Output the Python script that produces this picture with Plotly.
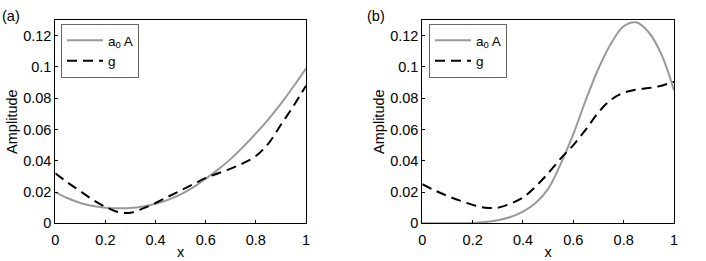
import plotly.graph_objects as go

x_vals = [0, 0.05, 0.1, 0.15, 0.2, 0.25, 0.3, 0.35, 0.4, 0.45, 0.5,
          0.55, 0.6, 0.65, 0.7, 0.75, 0.8, 0.85, 0.9, 0.95, 1.0]

a_A = [0.0200, 0.0160, 0.0130, 0.0110, 0.0100, 0.0096, 0.0098, 0.0108, 0.0125, 0.0150, 0.0185,
       0.0230, 0.0285, 0.0345, 0.0412, 0.0490, 0.0575, 0.0665, 0.0765, 0.0875, 0.0990]
a_g = [0.0320, 0.0260, 0.0205, 0.0150, 0.0105, 0.0072, 0.0068, 0.0095, 0.0130, 0.0170, 0.0210,
       0.0250, 0.0290, 0.0320, 0.0350, 0.0385, 0.0430, 0.0510, 0.0630, 0.0750, 0.0880]

b_A = [0.0, 0.0, 0.0, 0.0, 0.0002, 0.0008, 0.0020, 0.0040, 0.0075, 0.0130, 0.0220,
       0.0380, 0.0570, 0.0790, 0.0990, 0.1150, 0.1260, 0.1285, 0.1220, 0.1080, 0.0850]
b_g = [0.0250, 0.0210, 0.0175, 0.0145, 0.0118, 0.0100, 0.0100, 0.0125, 0.0165, 0.0235, 0.0320,
       0.0415, 0.0500, 0.0600, 0.0710, 0.0790, 0.0835, 0.0855, 0.0865, 0.0880, 0.0905]

x_ticks = [0, 0.2, 0.4, 0.6, 0.8, 1]
x_tick_text = ["0", "0.2", "0.4", "0.6", "0.8", "1"]
y_ticks = [0, 0.02, 0.04, 0.06, 0.08, 0.1, 0.12]
y_tick_text = ["0", "0.02", "0.04", "0.06", "0.08", "0.1", "0.12"]
panel_labels = ["(a)", "(b)"]
legend_names = ["a<sub>0</sub> A", "g"]

W, H = 706, 261
FONT = "Liberation Sans, Arial, sans-serif"
FS = 14.5
LFS = 13.5
GRAY = "#999999"

fig = go.Figure()

panels = [(a_A, a_g, "x", "y", "legend"), (b_A, b_g, "x2", "y2", "legend2")]
for A, g, xa, ya, lg in panels:
    fig.add_trace(go.Scatter(x=x_vals, y=A, mode="lines",
                             line=dict(color=GRAY, width=2, shape="spline", smoothing=1.0),
                             name=legend_names[0], xaxis=xa, yaxis=ya, legend=lg))
    fig.add_trace(go.Scatter(x=x_vals, y=g, mode="lines",
                             line=dict(color="black", width=2, dash="10px,6px", shape="spline", smoothing=1.0),
                             name=legend_names[1], xaxis=xa, yaxis=ya, legend=lg))

def px_x(p):
    return p / W

def px_y(p):
    return (H - p) / H

ydom = [px_y(223.3), px_y(20)]
xdoms = [[px_x(55.3), px_x(306)], [px_x(422.3), px_x(674)]]

axis_common = dict(showline=True, linecolor="black", linewidth=1, mirror=True, ticks="inside",
                   ticklen=3, tickcolor="black", showgrid=False, zeroline=False, automargin=False,
                   tickfont=dict(family=FONT, size=FS, color="black"))

for i, (xn, yn) in enumerate([("xaxis", "yaxis"), ("xaxis2", "yaxis2")]):
    fig.layout[xn] = dict(domain=xdoms[i], range=[0, 1], tickvals=x_ticks, ticktext=x_tick_text,
                          anchor="y" if i == 0 else "y2", ticklabelstandoff=3,
                          title=dict(text="x", font=dict(family=FONT, size=FS, color="black"), standoff=0),
                          **axis_common)
    fig.layout[yn] = dict(domain=ydom, range=[0, 0.13], tickvals=y_ticks, ticktext=y_tick_text,
                          anchor="x" if i == 0 else "x2",
                          title=dict(text="Amplitude", font=dict(family=FONT, size=FS, color="black"), standoff=2),
                          **axis_common)

leg_common = dict(bgcolor="white", bordercolor="#666666", borderwidth=1,
                  font=dict(family=FONT, size=LFS, color="black"), xanchor="left", yanchor="top",
                  tracegroupgap=0, itemwidth=36)
fig.update_layout(
    legend=dict(x=px_x(61), y=px_y(24), **leg_common),
    legend2=dict(x=px_x(429), y=px_y(24), **leg_common),
)

fig.add_annotation(text=panel_labels[0], x=px_x(0), y=px_y(16), xref="paper", yref="paper",
                   xanchor="left", yanchor="middle", showarrow=False, font=dict(family=FONT, size=FS, color="black"))
fig.add_annotation(text=panel_labels[1], x=px_x(365), y=px_y(16), xref="paper", yref="paper",
                   xanchor="left", yanchor="middle", showarrow=False, font=dict(family=FONT, size=FS, color="black"))

fig.update_layout(width=W, height=H, margin=dict(l=0, r=0, t=0, b=0),
                  paper_bgcolor="white", plot_bgcolor="white", showlegend=True)

fig.write_html("out.html", config={"displayModeBar": False},
               post_script="document.body.style.margin='0';")
